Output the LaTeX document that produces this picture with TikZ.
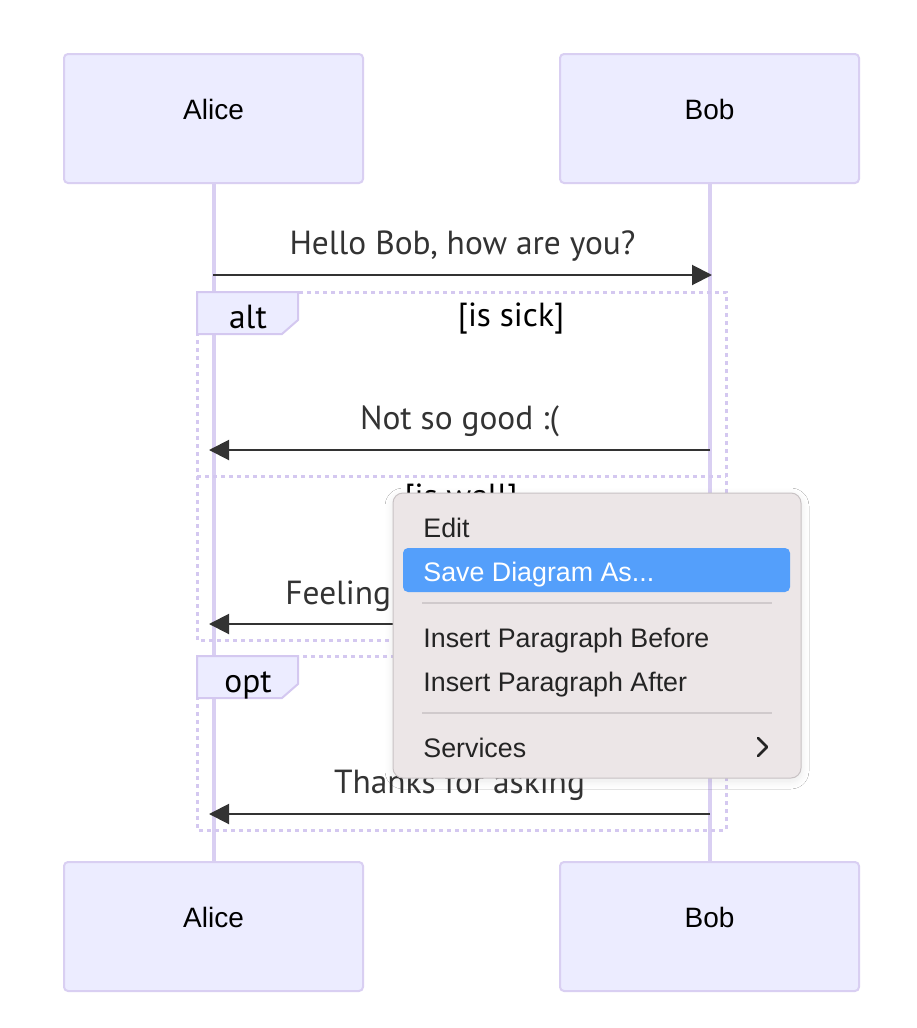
\documentclass[tikz,border=0pt]{standalone}
\usepackage{fontspec}
\setmainfont{Liberation Sans}
\newfontfamily\msgfont{PT Sans}
\newfontfamily\menufont{Liberation Sans}
\usetikzlibrary{arrows.meta, positioning, shadows.blur}
\definecolor{ActorFill}{HTML}{ECECFF}
\definecolor{ActorLine}{HTML}{D9CFF2}
\definecolor{FrameLine}{HTML}{D4C8F0}
\definecolor{MsgGray}{HTML}{333333}
\definecolor{MenuFill}{HTML}{ECE6E7}
\definecolor{MenuLine}{HTML}{C8C2C4}
\definecolor{MenuSep}{HTML}{D0CACC}
\definecolor{MenuBlue}{HTML}{549FFB}
\definecolor{MenuText}{HTML}{242424}

\begin{document}
\begin{tikzpicture}[x=0.5pt, y=-0.5pt,
  actor/.style={rectangle, draw=ActorLine, fill=ActorFill, line width=1pt,
    rounded corners=2pt, minimum width=149.5pt, minimum height=64.5pt, inner sep=0pt},
  actorname/.style={font=\fontsize{14}{16}\selectfont, text=black, inner sep=0pt},
  lifeline/.style={draw=ActorLine, line width=2pt},
  msg/.style={-{Triangle[length=10pt, width=10pt]}, draw=MsgGray, line width=1pt},
  msglabel/.style={font=\msgfont\fontsize{16.7}{19}\selectfont, text=MsgGray,
    inner sep=0pt, text depth=4pt},
  frame/.style={draw=FrameLine, line width=1.5pt, dash pattern=on 2pt off 2pt},
  framelabel/.style={draw=FrameLine, fill=ActorFill, line width=1pt},
  fragtext/.style={font=\msgfont\fontsize{16.7}{19}\selectfont, text=black, inner sep=0pt},
  menubox/.style={rectangle, draw=MenuLine, fill=MenuFill, line width=0.5pt,
    rounded corners=5pt, minimum width=204pt, minimum height=142.5pt, inner sep=0pt,
    blur shadow={shadow blur steps=10, shadow blur radius=4pt, shadow xshift=0pt,
      shadow yshift=-1.5pt, shadow scale=1, shadow opacity=9}},
  menuhl/.style={rectangle, fill=MenuBlue, rounded corners=2.5pt,
    minimum width=193.5pt, minimum height=22pt, inner sep=0pt},
  menuitem/.style={font=\menufont\fontsize{13.4}{15}\selectfont, text=MenuText,
    anchor=base west, inner sep=0pt},
  menusep/.style={draw=MenuSep, line width=0.75pt}
]
\useasboundingbox[fill=white] (0,0) rectangle (916,1028);

% Actors
\node[actor] (aliceTop) at (213.5,118.5) {};
\node[actor] (bobTop)   at (709.5,118.5) {};
\node[actor] (aliceBot) at (213.5,926.5) {};
\node[actor] (bobBot)   at (709.5,926.5) {};
\node[actorname] (aliceTopName) at (213.5,109) {Alice};
\node[actorname] (bobTopName)   at (709.5,109) {Bob};
\node[actorname] (aliceBotName) at (213.5,917) {Alice};
\node[actorname] (bobBotName)   at (709.5,917) {Bob};

\draw[lifeline] (aliceTop.south) -- (aliceBot.north);
\draw[lifeline] (bobTop.south)   -- (bobBot.north);

% Points on the lifelines
\coordinate (a1) at (213,275); \coordinate (b1) at (712,275);
\coordinate (a2) at (209,450); \coordinate (b2) at (710,450);
\coordinate (a3) at (209,624); \coordinate (b3) at (710,624);
\coordinate (a4) at (209,814); \coordinate (b4) at (710,814);

% Fragments
\draw[frame] (197,292) rectangle (726,640);
\draw[frame] (197,476) -- (726,476);
\draw[framelabel] (197,292) -- (298,292) -- (298,320) -- (282,334) -- (197,334) -- cycle;
\node[fragtext, anchor=base] (altText) at (248,328) {alt};
\node[fragtext, anchor=base] (sickText) at (511,326) {[is sick]};
\node[fragtext, anchor=base] (wellText) at (461,507) {[is well]};

\draw[frame] (197,656) rectangle (726,830);
\draw[framelabel] (197,656) -- (298,656) -- (298,684) -- (282,698) -- (197,698) -- cycle;
\node[fragtext, anchor=base] (optText) at (248,692) {opt};

% Messages
\draw[msg] (a1) -- (b1) node[midway, above=6pt, msglabel] (helloLbl) {Hello Bob, how are you?};
\draw[msg] (b2) -- (a2) node[midway, above=6pt, msglabel] (sickLbl) {Not so good :(};
\draw[msg] (b3) -- (a3);
\node[msglabel, anchor=base west] (feelLbl) at (285,604) {Feeling};
\draw[msg] (b4) -- (a4) node[midway, above=6pt, msglabel] (thanksLbl) {Thanks for asking};

% Context menu
\node[menubox] (menu) at (597,635.5) {};
\node[menuhl] (menuHl) at (596.5,570) {};
\node[menuitem] (itEdit)   at (423,537) {Edit};
\node[menuitem, text=white] (itSave) at (423,581) {Save Diagram As...};
\draw[menusep] (422,603) -- (772,603);
\node[menuitem] (itBefore) at (423,647) {Insert Paragraph Before};
\node[menuitem] (itAfter)  at (423,691) {Insert Paragraph After};
\draw[menusep] (422,713) -- (772,713);
\node[menuitem] (itServ)   at (423,757) {Services};
\draw[MenuText, line width=1.3pt, line cap=round, line join=round]
  (758,738) -- (767,747) -- (758,756);

\end{tikzpicture}
\end{document}
